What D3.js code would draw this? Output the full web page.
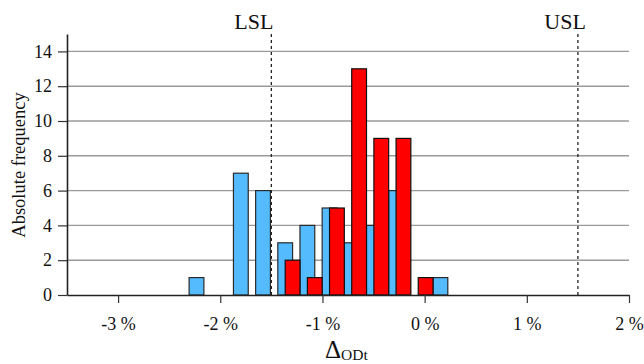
<!DOCTYPE html>
<html>
<head>
<meta charset="utf-8">
<script src="https://cdn.jsdelivr.net/npm/d3@7"></script>
<style>
  body { margin: 0; background: #fff; }
  svg { display: block; font-family: 'Liberation Serif', 'Times New Roman', serif; }
</style>
</head>
<body>
<svg id="chart" width="644" height="364"></svg>
<script>
// Histogram bins (left edge of each bin, in %)
const binStarts = [-2.305, -2.088, -1.871, -1.654, -1.437, -1.220, -1.003, -0.786, -0.569, -0.352, -0.135, 0.082];
const binWidth = 0.217;
const blueCounts = [1, 0, 7, 6, 3, 4, 5, 3, 4, 6, 0, 1];
const redCounts = [0, 0, 0, 0, 2, 1, 5, 13, 9, 9, 1, 0];

const xTicks = [-3, -2, -1, 0, 1, 2];
const yTicks = [0, 2, 4, 6, 8, 10, 12, 14];
const specLimits = [
  { name: 'LSL', value: -1.5, dx: 2 },
  { name: 'USL', value: 1.5, dx: 8 }
];

const svg = d3.select('#chart');

const margin = { left: 67, right: 15, top: 34, bottom: 69 };
const width = 644, height = 364;

const x = d3.scaleLinear()
  .domain([-3.5, 2])
  .range([margin.left, width - margin.right]);

const y = d3.scaleLinear()
  .domain([0, 15])
  .range([height - margin.bottom, margin.top]);

// grid lines
svg.append('g')
  .attr('class', 'grid')
  .selectAll('line')
  .data(yTicks.filter(d => d > 0))
  .enter()
  .append('line')
  .attr('x1', x.range()[0])
  .attr('x2', x.range()[1])
  .attr('y1', d => y(d))
  .attr('y2', d => y(d))
  .attr('stroke', '#9a9a9a')
  .attr('stroke-width', 1.4);

// bars - blue first, red drawn on top and shifted by a third of the bin
const barW = binWidth * 2 / 3;
const bins = binStarts.map((s, i) => ({ s, blue: blueCounts[i], red: redCounts[i] }));

svg.append('g')
  .selectAll('rect')
  .data(bins.filter(d => d.blue > 0))
  .enter()
  .append('rect')
  .attr('x', d => x(d.s))
  .attr('width', d => x(d.s + barW) - x(d.s))
  .attr('y', d => y(d.blue))
  .attr('height', d => y(0) - y(d.blue))
  .attr('fill', '#55bbff')
  .attr('stroke', '#2a2a2a')
  .attr('stroke-width', 1.2);

svg.append('g')
  .selectAll('rect')
  .data(bins.filter(d => d.red > 0))
  .enter()
  .append('rect')
  .attr('x', d => x(d.s + binWidth / 3))
  .attr('width', d => x(d.s + barW) - x(d.s))
  .attr('y', d => y(d.red))
  .attr('height', d => y(0) - y(d.red))
  .attr('fill', '#ff0000')
  .attr('stroke', '#111')
  .attr('stroke-width', 1.2);

// spec limit lines
const spec = svg.append('g');
spec.selectAll('line')
  .data(specLimits)
  .enter()
  .append('line')
  .attr('x1', d => x(d.value))
  .attr('x2', d => x(d.value))
  .attr('y1', y(15))
  .attr('y2', y(0))
  .attr('stroke', '#222')
  .attr('stroke-width', 1.3)
  .attr('stroke-dasharray', '3,3');

spec.selectAll('text')
  .data(specLimits)
  .enter()
  .append('text')
  .attr('x', d => x(d.value) + d.dx)
  .attr('y', 29)
  .attr('text-anchor', 'end')
  .style('font-size', '22px')
  .style('fill', '#111')
  .text(d => d.name);

// axes
const xAxis = svg.append('g')
  .attr('transform', `translate(0,${y(0)})`)
  .call(d3.axisBottom(x)
    .tickValues(xTicks)
    .tickSize(8)
    .tickSizeOuter(0)
    .tickPadding(14)
    .tickFormat(d => `${d} %`));

const yAxis = svg.append('g')
  .attr('transform', `translate(${x.range()[0]},0)`)
  .call(d3.axisLeft(y)
    .tickValues(yTicks)
    .tickSize(9)
    .tickSizeOuter(0)
    .tickPadding(6)
    .tickFormat(d3.format('d')));

[xAxis, yAxis].forEach(ax => {
  ax.select('.domain').attr('stroke', '#222').attr('stroke-width', 1.6);
  ax.selectAll('.tick line').attr('stroke', '#333').attr('stroke-width', 1.2);
  ax.selectAll('.tick text')
    .style('font-family', "'Liberation Serif', 'Times New Roman', serif")
    .style('font-size', '18px')
    .style('fill', '#111');
});

// axis titles
svg.append('text')
  .attr('transform', 'translate(25,165) rotate(-90)')
  .attr('text-anchor', 'middle')
  .style('font-size', '18.5px')
  .style('fill', '#111')
  .text('Absolute frequency');

const xTitle = svg.append('text')
  .attr('x', 325)
  .attr('y', 358)
  .style('fill', '#111');
xTitle.append('tspan')
  .style('font-size', '25px')
  .text('Δ');
xTitle.append('tspan')
  .attr('dy', 2)
  .style('font-size', '15.5px')
  .text('ODt');
</script>
</body>
</html>
